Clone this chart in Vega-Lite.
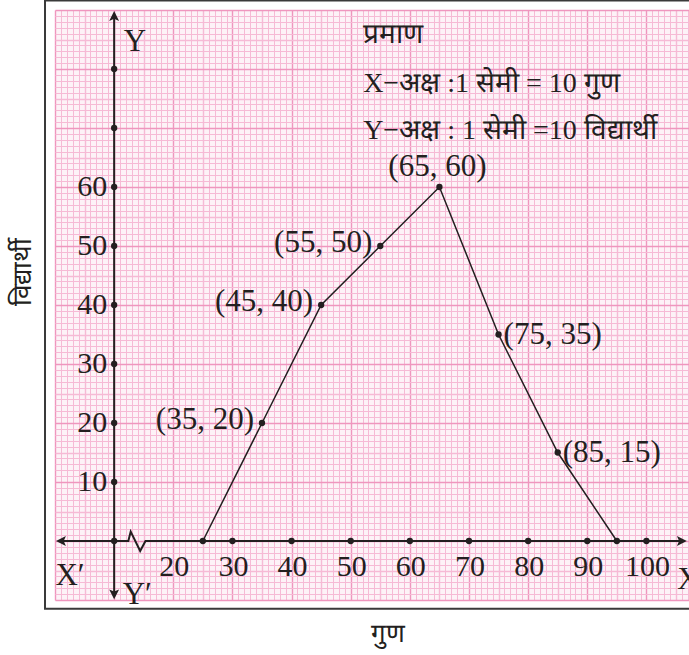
{
  "$schema": "https://vega.github.io/schema/vega-lite/v6.json",
  "width": 634,
  "height": 590,
  "autosize": {"type": "none"},
  "padding": {"left": 55, "top": 10, "right": 0, "bottom": 55},
  "background": "white",
  "view": {"fill": "#fdf2f7", "stroke": null},
  "config": {"font": "Liberation Serif", "text": {"color": "#231f20"}},
  "datasets": {
    "poly": [
      {"x": 25, "y": 0, "label": "", "side": "none"},
      {"x": 35, "y": 20, "label": "(35, 20)", "side": "left"},
      {"x": 45, "y": 40, "label": "(45, 40)", "side": "left"},
      {"x": 55, "y": 50, "label": "(55, 50)", "side": "left"},
      {"x": 65, "y": 60, "label": "(65, 60)", "side": "top"},
      {"x": 75, "y": 35, "label": "(75, 35)", "side": "right"},
      {"x": 85, "y": 15, "label": "(85, 15)", "side": "right"},
      {"x": 95, "y": 0, "label": "", "side": "none"}
    ],
    "axislines": [
      {"g": "x", "o": 1, "x": 0.6, "y": 0},
      {"g": "x", "o": 2, "x": 12.4, "y": 0},
      {"g": "x", "o": 3, "x": 12.8, "y": 1.6},
      {"g": "x", "o": 4, "x": 14.4, "y": -1.7},
      {"g": "x", "o": 5, "x": 15.3, "y": 0},
      {"g": "x", "o": 6, "x": 106.3, "y": 0},
      {"g": "y", "o": 1, "x": 10, "y": -9.4},
      {"g": "y", "o": 2, "x": 10, "y": 89.4}
    ],
    "arrows": [
      {"dir": "up", "x": 10, "y": 88.9},
      {"dir": "down", "x": 10, "y": -8.95},
      {"dir": "left", "x": 1.1, "y": 0},
      {"dir": "right", "x": 105.9, "y": 0}
    ],
    "axisdots": [
      {"x": 10, "y": 0}, {"x": 10, "y": 10}, {"x": 10, "y": 20}, {"x": 10, "y": 30},
      {"x": 10, "y": 40}, {"x": 10, "y": 50}, {"x": 10, "y": 60}, {"x": 10, "y": 70},
      {"x": 10, "y": 80},
      {"x": 30, "y": 0}, {"x": 40, "y": 0}, {"x": 50, "y": 0}, {"x": 60, "y": 0},
      {"x": 70, "y": 0}, {"x": 80, "y": 0}, {"x": 90, "y": 0}, {"x": 100, "y": 0}
    ],
    "xlabels": [
      {"x": 20, "y": 0, "t": "20"}, {"x": 30, "y": 0, "t": "30"}, {"x": 40, "y": 0, "t": "40"},
      {"x": 50, "y": 0, "t": "50"}, {"x": 60, "y": 0, "t": "60"}, {"x": 70, "y": 0, "t": "70"},
      {"x": 80, "y": 0, "t": "80"}, {"x": 90, "y": 0, "t": "90"}, {"x": 100, "y": 0, "t": "100"}
    ],
    "ylabels": [
      {"x": 10, "y": 10, "t": "10"}, {"x": 10, "y": 20, "t": "20"}, {"x": 10, "y": 30, "t": "30"},
      {"x": 10, "y": 40, "t": "40"}, {"x": 10, "y": 50, "t": "50"}, {"x": 10, "y": 60, "t": "60"}
    ],
    "letters": [
      {"x": 2.54, "y": -5.9, "t": "X′"},
      {"x": 13.9, "y": -9.1, "t": "Y′"},
      {"x": 13.5, "y": 84.6, "t": "Y"}
    ],
    "xend": [
      {"x": 105.2, "y": -6.6, "t": "X"}
    ],
    "scaletext": [
      {"x": 52.1, "y": 85.8, "t": "प्रमाण"},
      {"x": 52.1, "y": 77.4, "t": "X−अक्ष :1 सेमी = 10 गुण"},
      {"x": 52.1, "y": 69.5, "t": "Y−अक्ष : 1 सेमी =10 विद्यार्थी"}
    ],
    "xtitle": [{"x": 56.3, "y": -15.8, "t": "गुण"}],
    "ytitle": [{"x": -5.4, "y": 45.6, "t": "विद्यार्थी"}],
    "frame": [{"x": -1.69, "y": -11.5, "x2": 112, "y2": 91.6}]
  },
  "encoding": {
    "x": {
      "field": "x",
      "type": "quantitative",
      "scale": {"domain": [0, 107.2], "nice": false, "zero": false},
      "axis": {
        "domain": false, "ticks": false, "labels": false, "title": null,
        "grid": true, "tickCount": 108,
        "gridColor": {"condition": {"test": "datum.value % 10 === 0", "value": "#ef96be"}, "value": "#f6bad5"},
        "gridWidth": {"condition": {"test": "datum.value % 5 === 0", "value": 1.4}, "value": 1}
      }
    },
    "y": {
      "field": "y",
      "type": "quantitative",
      "scale": {"domain": [-10, 90], "nice": false, "zero": false},
      "axis": {
        "domain": false, "ticks": false, "labels": false, "title": null,
        "grid": true, "tickCount": 100,
        "gridColor": {"condition": {"test": "datum.value % 10 === 0", "value": "#ef96be"}, "value": "#f6bad5"},
        "gridWidth": {"condition": {"test": "datum.value % 5 === 0", "value": 1.4}, "value": 1}
      }
    }
  },
  "layer": [
    {
      "data": {"name": "frame"},
      "mark": {"type": "rect", "fill": null, "stroke": "#3a3a3a", "strokeWidth": 2, "clip": false},
      "encoding": {"x2": {"field": "x2"}, "y2": {"field": "y2"}}
    },
    {
      "data": {"name": "axislines"},
      "mark": {"type": "line", "color": "#231f20", "strokeWidth": 2},
      "encoding": {"detail": {"field": "g"}, "order": {"field": "o"}}
    },
    {
      "data": {"name": "arrows"},
      "mark": {"type": "point", "filled": true, "size": 121, "opacity": 1, "color": "#231f20"},
      "encoding": {
        "shape": {
          "field": "dir",
          "type": "nominal",
          "legend": null,
          "scale": {
            "domain": ["up", "down", "left", "right"],
            "range": [
              "M0,-1L0.9,0.8L0,0.4L-0.9,0.8Z",
              "M0,1L0.9,-0.8L0,-0.4L-0.9,-0.8Z",
              "M-1,0L0.8,-0.9L0.4,0L0.8,0.9Z",
              "M1,0L-0.8,-0.9L-0.4,0L-0.8,0.9Z"
            ]
          }
        }
      }
    },
    {
      "data": {"name": "poly"},
      "mark": {"type": "line", "color": "#231f20", "strokeWidth": 1.5}
    },
    {
      "data": {"name": "axisdots"},
      "mark": {"type": "circle", "size": 40, "color": "#231f20", "opacity": 1}
    },
    {
      "data": {"name": "poly"},
      "mark": {"type": "circle", "size": 40, "color": "#231f20", "opacity": 1}
    },
    {
      "data": {"name": "poly"},
      "transform": [{"filter": "datum.side === 'left'"}],
      "mark": {"type": "text", "align": "right", "baseline": "middle", "dx": -8, "dy": -3, "fontSize": 31},
      "encoding": {"text": {"field": "label"}}
    },
    {
      "data": {"name": "poly"},
      "transform": [{"filter": "datum.side === 'right'"}],
      "mark": {"type": "text", "align": "left", "baseline": "middle", "dx": 5, "dy": 0, "fontSize": 31},
      "encoding": {"text": {"field": "label"}}
    },
    {
      "data": {"name": "poly"},
      "transform": [{"filter": "datum.side === 'top'"}],
      "mark": {"type": "text", "align": "center", "baseline": "middle", "dx": -2, "dy": -20, "fontSize": 31},
      "encoding": {"text": {"field": "label"}}
    },
    {
      "data": {"name": "xlabels"},
      "mark": {"type": "text", "align": "center", "baseline": "middle", "dx": 1, "dy": 26, "fontSize": 30},
      "encoding": {"text": {"field": "t"}}
    },
    {
      "data": {"name": "ylabels"},
      "mark": {"type": "text", "align": "right", "baseline": "middle", "dx": -7, "dy": 0, "fontSize": 30},
      "encoding": {"text": {"field": "t"}}
    },
    {
      "data": {"name": "letters"},
      "mark": {"type": "text", "align": "center", "baseline": "middle", "fontSize": 31},
      "encoding": {"text": {"field": "t"}}
    },
    {
      "data": {"name": "xend"},
      "mark": {"type": "text", "align": "left", "baseline": "middle", "fontSize": 31},
      "encoding": {"text": {"field": "t"}}
    },
    {
      "data": {"name": "scaletext"},
      "mark": {"type": "text", "align": "left", "baseline": "middle", "fontSize": 28},
      "encoding": {"text": {"field": "t"}}
    },
    {
      "data": {"name": "xtitle"},
      "mark": {"type": "text", "align": "center", "baseline": "middle", "fontSize": 26, "clip": false},
      "encoding": {"text": {"field": "t"}}
    },
    {
      "data": {"name": "ytitle"},
      "mark": {"type": "text", "align": "center", "baseline": "middle", "fontSize": 26, "angle": 270},
      "encoding": {"text": {"field": "t"}}
    }
  ]
}
